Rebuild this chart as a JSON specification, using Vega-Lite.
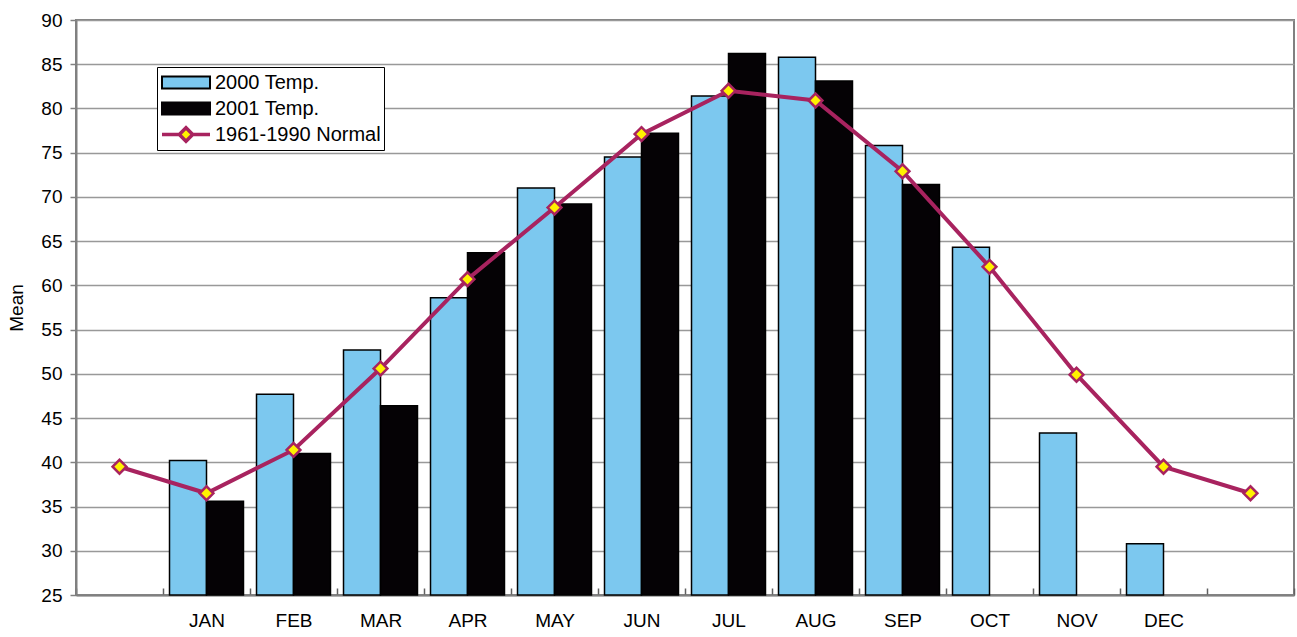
{
  "$schema": "https://vega.github.io/schema/vega-lite/v6.json",
  "width": 1218,
  "height": 575,
  "autosize": {"type": "none"},
  "padding": {"left": 76, "top": 20, "right": 3, "bottom": 42},
  "background": "white",
  "config": {
    "font": "Liberation Sans",
    "view": {"stroke": "#808080", "strokeWidth": 2}
  },
  "datasets": {
    "bars": [
      {"m": "JAN", "series": "2000 Temp.", "value": 40.2},
      {"m": "FEB", "series": "2000 Temp.", "value": 47.7},
      {"m": "MAR", "series": "2000 Temp.", "value": 52.7},
      {"m": "APR", "series": "2000 Temp.", "value": 58.6},
      {"m": "MAY", "series": "2000 Temp.", "value": 71.0},
      {"m": "JUN", "series": "2000 Temp.", "value": 74.5},
      {"m": "JUL", "series": "2000 Temp.", "value": 81.4},
      {"m": "AUG", "series": "2000 Temp.", "value": 85.8},
      {"m": "SEP", "series": "2000 Temp.", "value": 75.8},
      {"m": "OCT", "series": "2000 Temp.", "value": 64.3},
      {"m": "NOV", "series": "2000 Temp.", "value": 43.3},
      {"m": "DEC", "series": "2000 Temp.", "value": 30.8},
      {"m": "JAN", "series": "2001 Temp.", "value": 35.6},
      {"m": "FEB", "series": "2001 Temp.", "value": 41.0},
      {"m": "MAR", "series": "2001 Temp.", "value": 46.4},
      {"m": "APR", "series": "2001 Temp.", "value": 63.7},
      {"m": "MAY", "series": "2001 Temp.", "value": 69.2},
      {"m": "JUN", "series": "2001 Temp.", "value": 77.2},
      {"m": "JUL", "series": "2001 Temp.", "value": 86.2},
      {"m": "AUG", "series": "2001 Temp.", "value": 83.1},
      {"m": "SEP", "series": "2001 Temp.", "value": 71.4}
    ],
    "normal": [
      {"m": "s", "value": 39.5},
      {"m": "JAN", "value": 36.5},
      {"m": "FEB", "value": 41.4},
      {"m": "MAR", "value": 50.6},
      {"m": "APR", "value": 60.7},
      {"m": "MAY", "value": 68.8},
      {"m": "JUN", "value": 77.1},
      {"m": "JUL", "value": 82.0},
      {"m": "AUG", "value": 80.9},
      {"m": "SEP", "value": 72.9},
      {"m": "OCT", "value": 62.1},
      {"m": "NOV", "value": 49.9},
      {"m": "DEC", "value": 39.5},
      {"m": "e", "value": 36.5}
    ],
    "legend": [
      {"series": "2000 Temp."},
      {"series": "2001 Temp."},
      {"series": "1961-1990 Normal"}
    ]
  },
  "encoding": {
    "x": {
      "field": "m",
      "type": "nominal",
      "sort": null,
      "scale": {
        "domain": ["s", "JAN", "FEB", "MAR", "APR", "MAY", "JUN", "JUL", "AUG", "SEP", "OCT", "NOV", "DEC", "e"],
        "paddingInner": 0,
        "paddingOuter": 0
      },
      "axis": {
        "title": null,
        "labelAngle": 0,
        "labelExpr": "datum.value === 's' || datum.value === 'e' ? '' : datum.value",
        "labelFontSize": 19,
        "labelColor": "#000",
        "labelPadding": 23,
        "tickBand": "extent",
        "tickSize": -7,
        "tickColor": "#606060",
        "tickWidth": 1.5,
        "domainColor": "#808080",
        "domainWidth": 2,
        "grid": false
      }
    },
    "y": {
      "field": "value",
      "type": "quantitative",
      "scale": {"domain": [25, 90], "nice": false, "zero": false},
      "axis": {
        "title": "Mean",
        "titleFontSize": 19,
        "titleFontWeight": "normal",
        "titleColor": "#000",
        "titlePadding": 14,
        "values": [25, 30, 35, 40, 45, 50, 55, 60, 65, 70, 75, 80, 85, 90],
        "labelFontSize": 19,
        "labelColor": "#000",
        "labelPadding": 8,
        "tickSize": 6,
        "tickColor": "#808080",
        "tickWidth": 1.5,
        "domainColor": "#808080",
        "domainWidth": 2,
        "grid": true,
        "gridColor": "#999999",
        "gridWidth": 1.5
      }
    }
  },
  "layer": [
    {
      "data": {"name": "bars"},
      "mark": {"type": "bar", "stroke": "#000", "strokeWidth": 1.5},
      "encoding": {
        "xOffset": {
          "field": "series",
          "scale": {"domain": ["2000 Temp.", "2001 Temp."], "paddingInner": 0, "paddingOuter": 0.176}
        },
        "y2": {"datum": 25},
        "color": {
          "field": "series",
          "type": "nominal",
          "scale": {
            "domain": ["2000 Temp.", "2001 Temp."],
            "range": ["#7CC8EF", "#050205"]
          },
          "legend": null
        }
      }
    },
    {
      "data": {"name": "normal"},
      "mark": {"type": "line", "color": "#A8235F", "strokeWidth": 4},
      "encoding": {}
    },
    {
      "data": {"name": "normal"},
      "mark": {"type": "point", "shape": "diamond", "filled": true, "fill": "#FFF200", "stroke": "#A8235F", "strokeWidth": 2.5, "size": 190, "opacity": 1}
    },
    {
      "data": {"name": "legend"},
      "mark": {"type": "point", "filled": true, "opacity": 1},
      "encoding": {
        "fill": {
          "field": "series",
          "type": "nominal",
          "scale": {
            "domain": ["2000 Temp.", "2001 Temp.", "1961-1990 Normal"],
            "range": ["#7CC8EF", "#050205", "#FFF200"]
          },
          "legend": {
            "title": null,
            "orient": "none",
            "legendX": 81,
            "legendY": 47,
            "strokeColor": "#000",
            "fillColor": "#fff",
            "padding": 3,
            "labelFontSize": 20,
            "labelColor": "#000",
            "labelLimit": 400,
            "labelOffset": 3,
            "rowPadding": 1,
            "clipHeight": 25,
            "symbolSize": 2304,
            "symbolOpacity": 1
          }
        },
        "stroke": {
          "field": "series",
          "type": "nominal",
          "scale": {
            "domain": ["2000 Temp.", "2001 Temp.", "1961-1990 Normal"],
            "range": ["#000000", "#050205", "#A8235F"]
          }
        },
        "strokeWidth": {
          "field": "series",
          "type": "nominal",
          "scale": {
            "type": "ordinal",
            "domain": ["2000 Temp.", "2001 Temp.", "1961-1990 Normal"],
            "range": [2, 2, 3.5]
          }
        },
        "shape": {
          "field": "series",
          "type": "nominal",
          "scale": {
            "domain": ["2000 Temp.", "2001 Temp.", "1961-1990 Normal"],
            "range": ["M-1,-0.25H1V0.25H-1Z", "M-1,-0.25H1V0.25H-1Z", "M-1,0H-0.3M0.3,0H1M0,-0.28L0.28,0L0,0.28L-0.28,0Z"]
          }
        }
      }
    }
  ]
}
